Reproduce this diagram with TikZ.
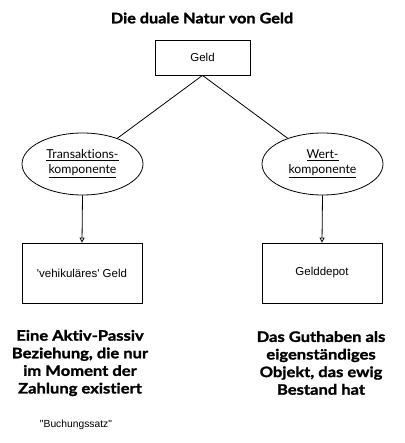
\documentclass[tikz,border=0pt]{standalone}
\usepackage{fontspec}
\setmainfont{Liberation Sans}[Ligatures=TeXOff]
\newfontfamily\gill{Lato}[Ligatures=CommonOff]
\newfontfamily\gillheavy{Lato}[Ligatures=CommonOff,FakeStretch=1.12,BoldFeatures={FakeBold=1.5}]
\newfontfamily\gillwide{Lato}[Ligatures=CommonOff,FakeStretch=1.15,BoldFeatures={FakeBold=1.5}]
\usetikzlibrary{shapes.geometric,arrows.meta}
\begin{document}
\begin{tikzpicture}[x=1pt,y=-1pt,
  box/.style={draw,line width=0.8pt,minimum width=#1,inner sep=0pt,font=\fontsize{11.5}{13}\selectfont},
  comp/.style={draw,ellipse,line width=0.8pt,minimum width=121pt,minimum height=62pt,inner sep=0pt,align=center,font=\gill\fontsize{12.3}{15}\selectfont},
  note/.style={align=center,font=\gillwide\bfseries\fontsize{14.4}{17.6}\selectfont},
  link/.style={line width=0.8pt},
  arr/.style={line width=0.8pt,-{Triangle[open,length=5pt,width=5pt]}}]
\useasboundingbox (0,0) rectangle (404,443);
\node[font=\gillheavy\bfseries\fontsize{14.5}{16}\selectfont] (title) at (202,18) {Die duale Natur von Geld};
\node[box=95pt,minimum height=35pt] (geld) at (202.5,57.5) {Geld};
\node[comp] (trans) at (82.5,164) {\underline{Transaktions-}\\\underline{komponente}};
\node[comp] (wert) at (322.5,164) {\underline{Wert-}\\\underline{komponente}};
\node[box=120pt,minimum height=60pt] (veh) at (82,273) {'vehikuläres' Geld};
\node[box=120pt,minimum height=60pt] (depot) at (322,273) {Gelddepot};
\draw[link] (geld.south) -- (trans);
\draw[link] (geld.south) -- (wert);
\draw[arr] (trans.south) -- (veh.north);
\draw[arr] (wert.south) -- (depot.north);
\node[note] (n1) at (80,363) {Eine Aktiv-Passiv\\Beziehung, die nur\\im Moment der\\Zahlung existiert};
\node[note] (n2) at (321,363) {Das Guthaben als\\eigenständiges\\Objekt, das ewig\\Bestand hat};
\node[font=\fontsize{10.3}{12}\selectfont] (buch) at (76,425) {"Buchungssatz"};
\end{tikzpicture}
\end{document}
